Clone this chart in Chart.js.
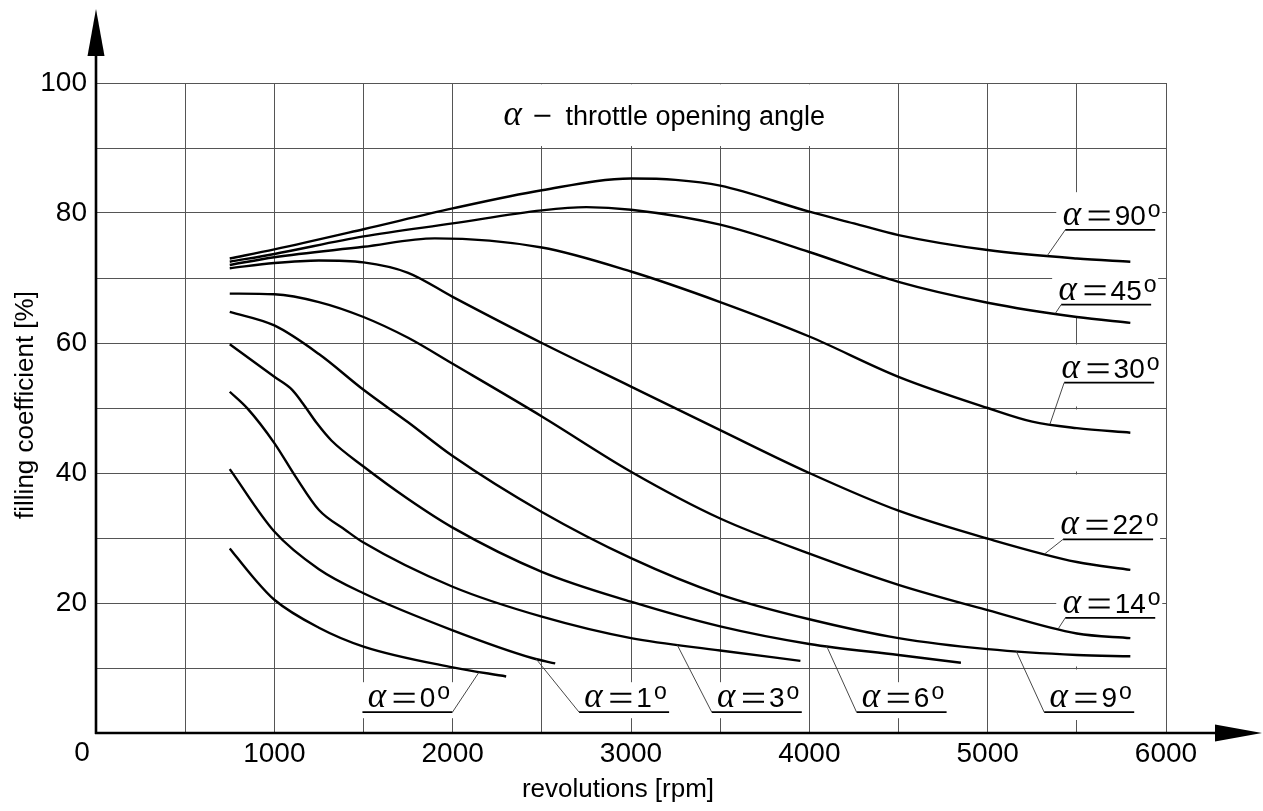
<!DOCTYPE html>
<html>
<head>
<meta charset="utf-8">
<script src="https://cdn.jsdelivr.net/npm/chart.js@4.4.0/dist/chart.umd.min.js"></script>
<style>
  html, body { margin:0; padding:0; background:#fff; }
  #wrap { width:1263px; height:811px; }
</style>
</head>
<body>
<div id="wrap"><canvas id="fillChart" width="1263" height="811"></canvas></div>
<script>
/* ═══ filling coefficient vs revolutions ═══ */
(function () {
  var SANS  = '"Liberation Sans", Arial, sans-serif';
  var SERIF = '"Liberation Serif", "Times New Roman", serif';

  /* ── curves: rpm / filling coefficient [%] per throttle angle ── */
  var RPM_90  = [750, 1000, 1500, 2000, 2500, 3000, 3250, 3500, 4000, 4250, 4500, 5000, 5500, 5800];
  var FILL_90 = [73.0, 74.4, 77.5, 80.7, 83.5, 85.3, 85.1, 84.2, 80.2, 78.4, 76.6, 74.3, 73.0, 72.5];

  var RPM_45  = [750, 1000, 1500, 2000, 2500, 2750, 3000, 3500, 4000, 4500, 5000, 5500, 5800];
  var FILL_45 = [72.5, 73.7, 76.4, 78.4, 80.4, 80.9, 80.5, 78.2, 74.0, 69.4, 66.2, 64.0, 63.1];

  var RPM_30  = [750, 1000, 1500, 1900, 2500, 3000, 3500, 4000, 4500, 5000, 5250, 5500, 5800];
  var FILL_30 = [72.0, 73.2, 74.8, 76.1, 74.7, 71.0, 66.3, 61.0, 54.8, 50.0, 47.9, 46.9, 46.2];

  var RPM_22  = [750, 1000, 1250, 1500, 1750, 2000, 2500, 3000, 3500, 4000, 4500, 5000, 5500, 5800];
  var FILL_22 = [71.5, 72.3, 72.7, 72.4, 70.8, 67.1, 60.0, 53.3, 46.6, 40.0, 34.2, 29.9, 26.3, 25.1];

  var RPM_14  = [750, 1000, 1250, 1500, 1750, 2000, 2500, 3000, 3500, 4000, 4500, 5000, 5500, 5800];
  var FILL_14 = [67.6, 67.5, 66.3, 64.0, 60.8, 56.8, 48.7, 40.2, 33.0, 27.6, 22.8, 18.9, 15.3, 14.6];

  var RPM_9   = [750, 1000, 1250, 1500, 1750, 2000, 2500, 3000, 3500, 4000, 4500, 5000, 5500, 5800];
  var FILL_9  = [64.8, 62.7, 58.3, 52.8, 47.8, 42.6, 34.0, 26.9, 21.3, 17.5, 14.6, 12.9, 12.0, 11.8];

  var RPM_6   = [750, 1000, 1100, 1160, 1240, 1320, 1500, 1750, 2000, 2500, 3000, 3500, 4000, 4500, 4850];
  var FILL_6  = [59.8, 54.8, 52.8, 50.7, 47.6, 45.0, 41.0, 36.0, 31.6, 24.8, 20.2, 16.4, 13.7, 12.0, 10.8];

  var RPM_3   = [750, 850, 1000, 1120, 1250, 1400, 1500, 2000, 2500, 3000, 3500, 3950];
  var FILL_3  = [52.5, 49.9, 44.6, 39.4, 34.3, 31.2, 29.3, 22.5, 17.9, 14.6, 12.7, 11.1];

  var RPM_1   = [750, 1000, 1250, 1500, 2000, 2450, 2575];
  var FILL_1  = [40.6, 31.0, 25.2, 21.5, 15.8, 11.5, 10.7];

  var RPM_0   = [750, 880, 1000, 1250, 1500, 2000, 2300];
  var FILL_0  = [28.4, 24.0, 20.5, 16.2, 13.3, 10.1, 8.7];

  var ANGLES = ['90', '45', '30', '22', '14', '9', '6', '3', '1', '0'];
  var SERIES = [
    [RPM_90, FILL_90], [RPM_45, FILL_45], [RPM_30, FILL_30], [RPM_22, FILL_22], [RPM_14, FILL_14],
    [RPM_9, FILL_9], [RPM_6, FILL_6], [RPM_3, FILL_3], [RPM_1, FILL_1], [RPM_0, FILL_0]
  ];

  /* ── axis ticks ── */
  var X_MAX = 6000, X_STEP = 500, X_LABEL_EVERY = 1000;
  var Y_MAX = 100,  Y_STEP = 10,  Y_LABEL_EVERY = 20;

  /* ── curve labels: underline start (rpm, %), leader target rpm ── */
  var NOTES = [
    { angle:'90', rpm:5435, fill:77.4, to:5334 },
    { angle:'45', rpm:5412, fill:65.9, to:5379 },
    { angle:'30', rpm:5429, fill:53.9, to:5349 },
    { angle:'22', rpm:5423, fill:29.8, to:5321 },
    { angle:'14', rpm:5435, fill:17.7, to:5396 },
    { angle:'9',  rpm:5317, fill:3.2,  to:5160 },
    { angle:'6',  rpm:4265, fill:3.2,  to:4097 },
    { angle:'3',  rpm:3453, fill:3.2,  to:3258 },
    { angle:'1',  rpm:2709, fill:3.2,  to:2468 },
    { angle:'0',  rpm:1494, fill:3.2,  to:2149, fromRight:true }
  ];
  // grid pieces left out of the drawing
  var GRID_GAPS = [
    { rpm:5500, lo:2.0,  hi:60.2 },
    { rpm:5500, lo:64.0, hi:83.2 }
  ];
  var TITLE_BOX = { x0:2270, x1:4150, y0:90.3, y1:99.8 };
  var UNDERLINE = 90;

  function valueAt(rpms, vals, r) {
    for (var i = 1; i < rpms.length; i++) {
      if (r <= rpms[i]) {
        var t = (r - rpms[i-1]) / (rpms[i] - rpms[i-1]);
        return vals[i-1] + t * (vals[i] - vals[i-1]);
      }
    }
    return vals[vals.length - 1];
  }

  // "α = N°" drawn as in the drawing: italic alpha, wide equals, raised o
  function drawAngle(c, left, base, num) {
    c.textAlign = 'left'; c.textBaseline = 'alphabetic';
    c.font = '28px ' + SANS;
    var dw = c.measureText(num).width;
    var total = 20 + 5 + 21 + 5 + dw + 2 + 11;
    var x = left + (UNDERLINE - total) / 2 + 1;
    c.font = 'italic 35px ' + SERIF;
    c.fillText('\u03b1', x - 1, base);
    x += 25;
    c.lineWidth = 2;
    c.beginPath();
    c.moveTo(x, base - 5.5);  c.lineTo(x + 21, base - 5.5);
    c.moveTo(x, base - 13.5); c.lineTo(x + 21, base - 13.5);
    c.stroke();
    x += 26;
    c.font = '28px ' + SANS;
    c.fillText(num, x, base);
    x += dw + 2;
    c.font = '23px ' + SANS;
    c.fillText('o', x, base - 8);
  }

  var datasets = SERIES.map(function (s, k) {
    return {
      label: '\u03b1 = ' + ANGLES[k] + '\u00b0',
      data: s[0].map(function (r, i) { return { x: r, y: s[1][i] }; }),
      borderColor: '#000', borderWidth: 2.4, pointRadius: 0,
      cubicInterpolationMode: 'monotone', fill: false
    };
  });

  /* ── labels, arrows, axis titles ── */
  var drawingPlugin = {
    id: 'drawing',
    beforeDatasetsDraw: function (chart) {
      var c = chart.ctx, xs = chart.scales.x, ys = chart.scales.y;
      c.save();
      c.fillStyle = '#fff';
      var bx0 = xs.getPixelForValue(TITLE_BOX.x0), bx1 = xs.getPixelForValue(TITLE_BOX.x1);
      var by0 = ys.getPixelForValue(TITLE_BOX.y1), by1 = ys.getPixelForValue(TITLE_BOX.y0);
      c.fillRect(bx0, by0, bx1 - bx0, by1 - by0);
      NOTES.forEach(function (n) {
        var ux = xs.getPixelForValue(n.rpm), uy = ys.getPixelForValue(n.fill);
        var top = n.fill > 10 ? 37 : 30;
        c.fillRect(ux - 9, uy - top, UNDERLINE + 16, top + 6);
      });
      // vertical gaps, split so the horizontal grid lines stay whole
      GRID_GAPS.forEach(function (g) {
        var gx = xs.getPixelForValue(g.rpm);
        for (var v = 0; v < Y_MAX; v += Y_STEP) {
          var lo = Math.max(g.lo, v), hi = Math.min(g.hi, v + Y_STEP);
          if (hi <= lo) continue;
          var p0 = ys.getPixelForValue(hi) + (hi === v + Y_STEP ? 1.5 : 0);
          var p1 = ys.getPixelForValue(lo) - (lo === v ? 1.5 : 0);
          if (p1 > p0) c.fillRect(gx - 2, p0, 4, p1 - p0);
        }
      });
      c.restore();
    },
    afterDatasetsDraw: function (chart) {
      var c = chart.ctx, xs = chart.scales.x, ys = chart.scales.y;
      c.save();
      c.fillStyle = '#000';
      NOTES.forEach(function (n) {
        var k = ANGLES.indexOf(n.angle);
        var ux = xs.getPixelForValue(n.rpm), uy = ys.getPixelForValue(n.fill);
        var tx = xs.getPixelForValue(n.to);
        var ty = ys.getPixelForValue(valueAt(SERIES[k][0], SERIES[k][1], n.to));
        // underline
        c.strokeStyle = '#000'; c.lineWidth = 1.7;
        c.beginPath(); c.moveTo(ux, uy); c.lineTo(ux + UNDERLINE, uy); c.stroke();
        // leader
        c.strokeStyle = '#333'; c.lineWidth = 0.9;
        c.beginPath(); c.moveTo(n.fromRight ? ux + UNDERLINE : ux, uy); c.lineTo(tx, ty); c.stroke();
        c.strokeStyle = '#000';
        drawAngle(c, ux, uy - 5, n.angle);
      });
      // heading
      var hx = xs.getPixelForValue(2290), hy = ys.getPixelForValue(93.5);
      c.textAlign = 'left'; c.textBaseline = 'alphabetic';
      c.font = 'italic 35px ' + SERIF;
      c.fillText('\u03b1', hx - 1, hy);
      c.lineWidth = 2;
      c.beginPath(); c.moveTo(hx + 30, hy - 9.5); c.lineTo(hx + 46, hy - 9.5); c.stroke();
      c.font = '27px ' + SANS;
      c.fillText('throttle opening angle', hx + 61, hy);
      c.restore();
    },
    afterDraw: function (chart) {
      var c = chart.ctx, a = chart.chartArea;
      var x0 = a.left, y0 = a.bottom;
      c.save();
      c.strokeStyle = '#000'; c.fillStyle = '#000'; c.lineWidth = 2.6;
      // y axis + arrow
      c.beginPath(); c.moveTo(x0, y0 + 1); c.lineTo(x0, 50); c.stroke();
      c.beginPath(); c.moveTo(x0, 9); c.lineTo(x0 - 8.5, 56); c.lineTo(x0 + 8.5, 56); c.closePath(); c.fill();
      // x axis + arrow
      c.beginPath(); c.moveTo(x0 - 1, y0); c.lineTo(1220, y0); c.stroke();
      c.beginPath(); c.moveTo(1262, y0); c.lineTo(1215, y0 - 8.5); c.lineTo(1215, y0 + 8.5); c.closePath(); c.fill();
      // origin
      c.font = '28px ' + SANS;
      c.textAlign = 'center'; c.textBaseline = 'middle';
      c.fillText('0', x0 - 14, y0 + 20);
      // axis titles
      c.font = '26px ' + SANS;
      c.fillText('revolutions [rpm]', 618, 790);
      c.translate(26, 405);
      c.rotate(-Math.PI / 2);
      c.fillText('filling coefficient [%]', 0, 0);
      c.restore();
    }
  };

  new Chart(document.getElementById('fillChart'), {
    type: 'line',
    data: { datasets: datasets },
    plugins: [drawingPlugin],
    options: {
      responsive: false, animation: false, devicePixelRatio: 1,
      layout: { padding: { left: 0, right: 97, top: 83, bottom: 0 } },
      plugins: { legend: { display: false }, tooltip: { enabled: false } },
      scales: {
        x: {
          type: 'linear', min: 0, max: X_MAX,
          afterFit: function (s) { s.height = 78; },
          border: { display: false },
          grid: { color: '#555', lineWidth: 1, drawTicks: false },
          ticks: {
            stepSize: X_STEP, padding: 4, color: '#000', font: { family: SANS, size: 28 },
            callback: function (v) { return (v % X_LABEL_EVERY === 0 && v !== 0) ? String(v) : ''; }
          }
        },
        y: {
          type: 'linear', min: 0, max: Y_MAX,
          afterFit: function (s) { s.width = 96; },
          border: { display: false },
          grid: { color: '#555', lineWidth: 1, drawTicks: false },
          ticks: {
            stepSize: Y_STEP, padding: 9, color: '#000', font: { family: SANS, size: 28 },
            callback: function (v) { return (v % Y_LABEL_EVERY === 0 && v !== 0) ? String(v) : ''; }
          }
        }
      }
    }
  });
})();
</script>
</body>
</html>
